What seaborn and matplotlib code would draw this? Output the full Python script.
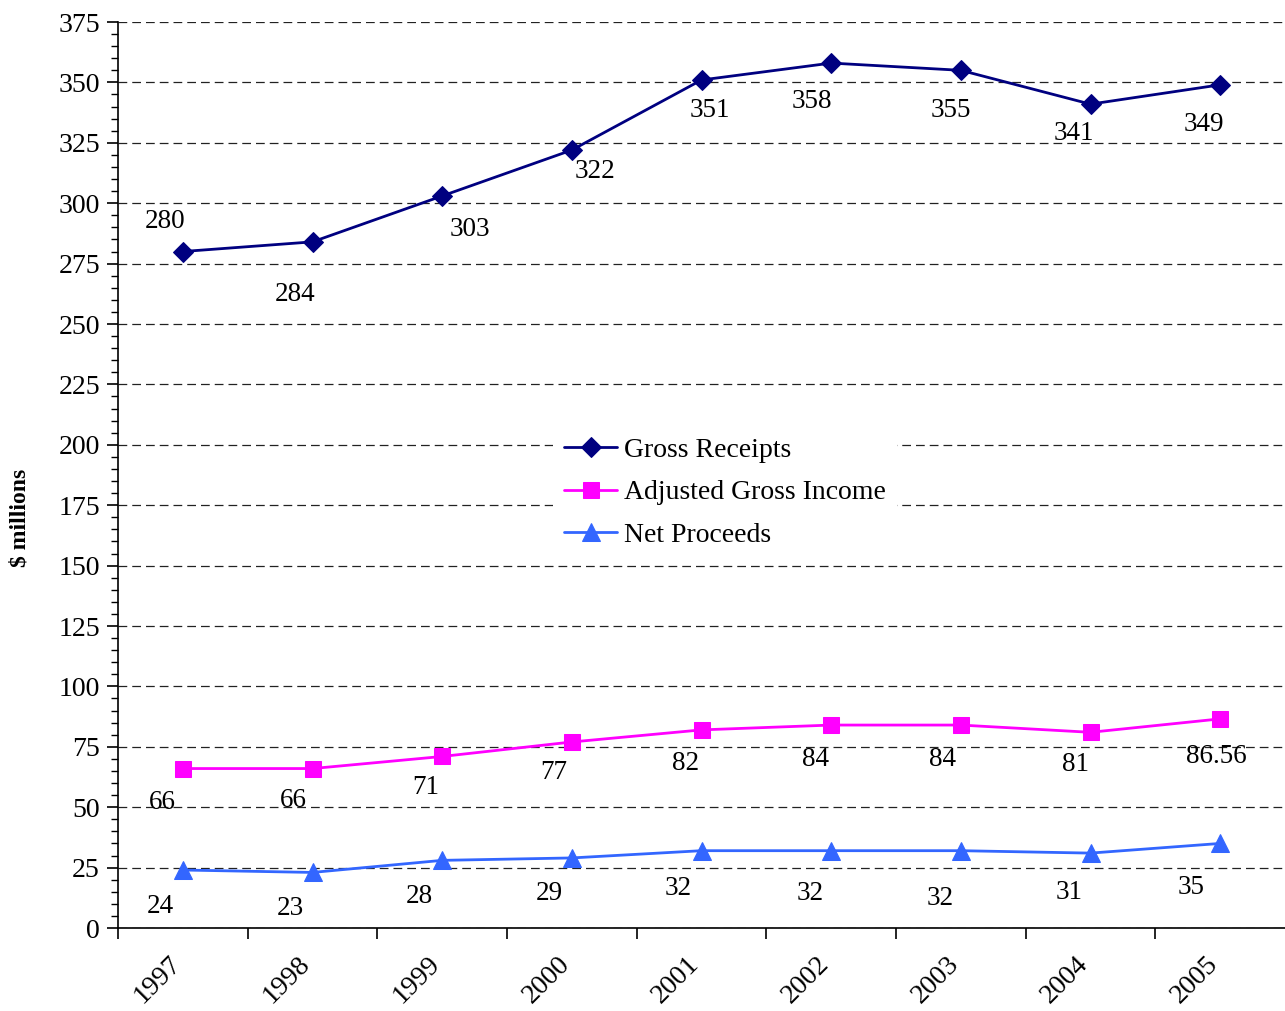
import matplotlib
matplotlib.use("Agg")
import matplotlib.pyplot as plt
import matplotlib.transforms as mtransforms
from matplotlib.ticker import MultipleLocator, FixedLocator, NullFormatter
import seaborn as sns
import pandas as pd

years = ["1997", "1998", "1999", "2000", "2001", "2002", "2003", "2004", "2005"]
gross_receipts = [280, 284, 303, 322, 351, 358, 355, 341, 349]
adjusted_gross_income = [66, 66, 71, 77, 82, 84, 84, 81, 86.56]
net_proceeds = [24, 23, 28, 29, 32, 32, 32, 31, 35]

gross_labels = ["280", "284", "303", "322", "351", "358", "355", "341", "349"]
agi_labels = ["66", "66", "71", "77", "82", "84", "84", "81", "86.56"]
net_labels = ["24", "23", "28", "29", "32", "32", "32", "31", "35"]

# label offsets from each point, in pixels (dx right, dy down)
gross_offsets = [(-18, -30), (-17, 53), (28, 34), (23, 21), (8, 31),
                 (-19, 38), (-10, 40), (-17, 29), (-16, 40)]
agi_offsets = [(-20, 34), (-19, 32), (-16, 31), (-18, 31), (-16, 34),
               (-16, 34), (-18, 34), (-15, 32), (-4, 38)]
net_offsets = [(-23, 36), (-22, 36), (-23, 36), (-23, 36), (-23, 38),
               (-21, 43), (-21, 48), (-21, 39), (-29, 44)]

sns.set_style("white")
plt.rcParams["font.family"] = ["Liberation Serif", "DejaVu Serif"]
plt.rcParams["text.color"] = "black"
plt.rcParams["xtick.color"] = "black"
plt.rcParams["ytick.color"] = "black"

fig = plt.figure(figsize=(12.85, 10.11), dpi=100)
ax = fig.add_axes([118 / 1285, 1 - 928 / 1011, (1285 - 118) / 1285, (928 - 22) / 1011])

pos = list(range(len(years)))
series = [
    ("Gross Receipts", gross_receipts, "#000080", "D", 10, gross_labels, gross_offsets),
    ("Adjusted Gross Income", adjusted_gross_income, "#FF00FF", "s", 12, agi_labels, agi_offsets),
    ("Net Proceeds", net_proceeds, "#3366FF", "^", 13, net_labels, net_offsets),
]

for name, vals, color, marker, ms, labels, offs in series:
    df = pd.DataFrame({"pos": pos, "value": vals})
    sns.lineplot(data=df, x="pos", y="value", ax=ax, color=color, marker=marker,
                 markersize=ms, markeredgecolor=color, linewidth=2.0, label=name,
                 sort=False, zorder=3)
    for p, v, lab, (dx, dy) in zip(pos, vals, labels, offs):
        ax.annotate(lab, (p, v), xytext=(dx * 0.72, -dy * 0.72),
                    textcoords="offset points", ha="center", va="center",
                    fontsize=19.5, color="black", zorder=4)

ax.set_xlim(-0.5, len(years) - 0.5)
ax.set_ylim(0, 375)

# y axis: major every 25 with minor ticks every 5
ax.yaxis.set_major_locator(MultipleLocator(25))
ax.yaxis.set_minor_locator(MultipleLocator(5))
ax.tick_params(axis="y", which="major", direction="out", length=8, width=1.2,
               labelsize=20, pad=5, left=True)
ax.tick_params(axis="y", which="minor", direction="out", length=5, width=1.0, left=True)

# x axis: tick marks between categories, labels at category centres
ax.xaxis.set_major_locator(FixedLocator(pos))
ax.set_xticklabels(years)
ax.xaxis.set_minor_locator(FixedLocator([p - 0.5 for p in pos]))
ax.xaxis.set_minor_formatter(NullFormatter())
ax.tick_params(axis="x", which="major", length=0, labelsize=20, pad=23, bottom=True)
ax.tick_params(axis="x", which="minor", direction="out", length=8, width=1.2, bottom=True)
shift = mtransforms.ScaledTranslation(-6 / 100, 0, fig.dpi_scale_trans)
for t in ax.get_xticklabels():
    t.set_rotation(45)
    t.set_ha("right")
    t.set_va("center")
    t.set_rotation_mode("anchor")
    t.set_transform(t.get_transform() + shift)

ax.yaxis.grid(True, which="major", linestyle=(0, (7, 4)), color="#222222",
              linewidth=0.9)
ax.set_axisbelow(True)

for side in ["top", "right"]:
    ax.spines[side].set_visible(False)
for side in ["left", "bottom"]:
    ax.spines[side].set_color("black")
    ax.spines[side].set_linewidth(1.2)

ax.set_xlabel("")
ax.set_ylabel("")
fig.text(20 / 1285, 1 - 518 / 1011, r"\$ millions", rotation=90, ha="center",
         va="center", fontsize=17, fontweight="bold")

leg = ax.legend(loc="upper left", bbox_to_anchor=(553 / 1285, 1 - 426 / 1011),
                bbox_transform=fig.transFigure, frameon=True, fontsize=20,
                handlelength=1.9, handletextpad=0.25, labelspacing=0.62,
                borderpad=0.4, borderaxespad=0)
frame = leg.get_frame()
frame.set_facecolor("white")
frame.set_edgecolor("white")
frame.set_alpha(1.0)
frame.set_linewidth(0)
frame.set_boxstyle("square", pad=0)
leg.set_zorder(5)

fig.savefig("out.png", dpi=100, facecolor="white")
